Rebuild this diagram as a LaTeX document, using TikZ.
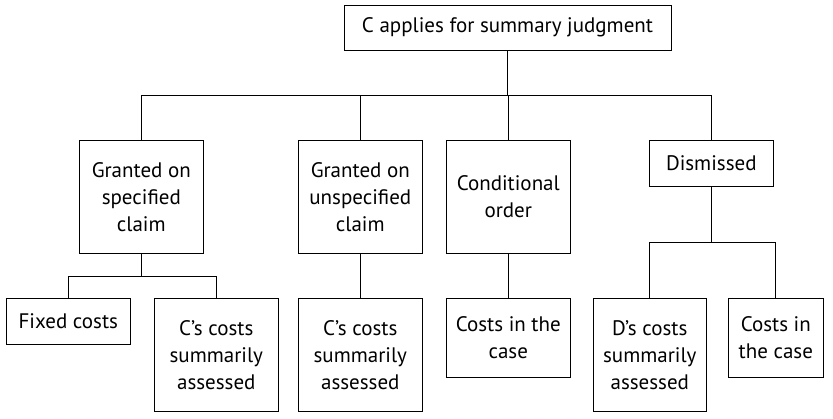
\documentclass[tikz,border=0pt]{standalone}
\usepackage{fontspec}
\setmainfont{PT Sans}
\begin{document}
\begin{tikzpicture}[x=1pt,y=-1pt,line width=1pt,
  box/.style={draw,line width=1pt,inner sep=0pt,align=center,font=\fontsize{21}{27}\selectfont,anchor=center},
  conn/.style={line width=1pt}]
\useasboundingbox (0,0) rectangle (833,418);
\node[box,minimum width=327pt,minimum height=45pt] (top) at (507.5,27.5) {C applies for summary judgment};
\node[box,minimum width=124pt,minimum height=113pt] (spec) at (141.3,196.8) {Granted on\\specified\\claim};
\node[box,minimum width=124pt,minimum height=113pt] (unspec) at (360.3,196.8) {Granted on\\unspecified\\claim};
\node[box,minimum width=124pt,minimum height=113pt] (cond) at (508.3,196.8) {Conditional\\order};
\node[box,minimum width=124pt,minimum height=45.7pt] (dism) at (711.3,163.2) {Dismissed};
\node[box,minimum width=124pt,minimum height=46pt] (fixed) at (68.3,321.3) {Fixed costs};
\node[box,minimum width=124pt,minimum height=112.7pt] (cspec) at (216.3,354.7) {C’s costs\\summarily\\assessed};
\node[box,minimum width=124pt,minimum height=112.7pt] (cunspec) at (360.3,354.7) {C’s costs\\summarily\\assessed};
\node[box,minimum width=124pt,minimum height=78.7pt] (cic1) at (508.3,337.7) {Costs in the\\case};
\node[box,minimum width=113pt,minimum height=112.7pt] (dcosts) at (649.8,354.7) {D’s costs\\summarily\\assessed};
\node[box,minimum width=95pt,minimum height=78.7pt] (cic2) at (775.8,337.7) {Costs in\\the case};
\coordinate (bus) at (0,95);
\coordinate (subbus) at (0,276);
\coordinate (dbus) at (0,242);
\draw[conn] (top.south) -- (top.south |- bus);
\draw[conn] (spec.north) -- (spec.north |- bus) -- (dism.north |- bus) -- (dism.north);
\draw[conn] (unspec.north) -- (unspec.north |- bus);
\draw[conn] (cond.north) -- (cond.north |- bus);
\draw[conn] (spec.south) -- (spec.south |- subbus);
\draw[conn] (fixed.north) -- (fixed.north |- subbus) -- (cspec.north |- subbus) -- (cspec.north);
\draw[conn] (unspec.south) -- (cunspec.north);
\draw[conn] (cond.south) -- (cic1.north);
\draw[conn] (dism.south) -- (dism.south |- dbus);
\draw[conn] (dcosts.north) -- (dcosts.north |- dbus) -- (cic2.north |- dbus) -- (cic2.north);
\end{tikzpicture}
\end{document}
